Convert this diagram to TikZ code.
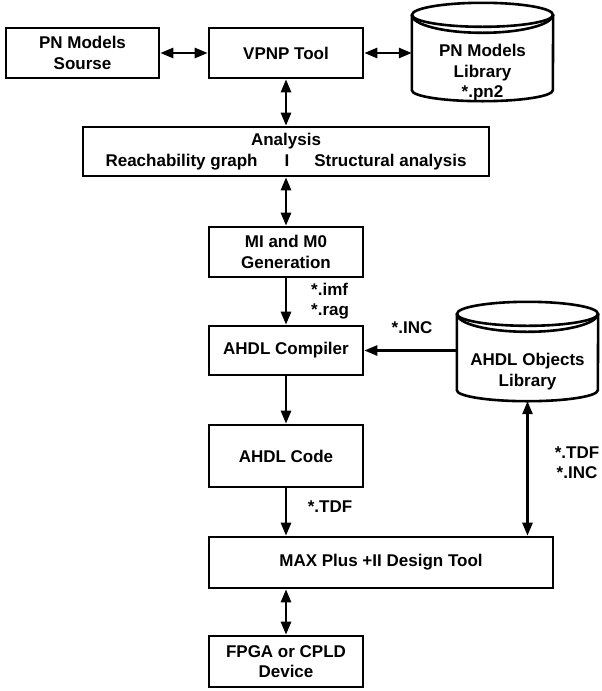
\documentclass[tikz,border=0pt]{standalone}
\usepackage{fontspec}
\setmainfont{Liberation Sans}
\usetikzlibrary{arrows.meta, calc}

\newcommand{\drawdrum}[1]{%
  \draw[line width=2.6pt] ($(#1.north west)+(0,-12)$) -- ($(#1.south west)+(0,11)$)
    arc[start angle=180, end angle=360, x radius=70.5, y radius=11] -- ($(#1.north east)+(0,-12)$);
  \draw[line width=2.6pt] ($(#1.north)+(0,-12)$) ellipse[x radius=70.5, y radius=12];
  \draw[line width=2.6pt] ($(#1.north west)+(0,-12)$) arc[start angle=180, end angle=360, x radius=70.5, y radius=18];
}

\begin{document}
\begin{tikzpicture}[x=1pt, y=1pt,
    font=\fontsize{17}{20.5}\selectfont\bfseries,
    box/.style={draw, line width=2.6pt, minimum width=154pt, minimum height=50pt, align=center, inner sep=0pt},
    drum/.style={minimum width=141pt, minimum height=98pt, inner sep=0pt},
    lbl/.style={inner sep=0pt},
    dbl/.style={line width=2.6pt, {Triangle[length=13pt,width=10pt]}-{Triangle[length=13pt,width=10pt]}},
    one/.style={line width=2.6pt, -{Triangle[length=13pt,width=10pt]}}]
  \useasboundingbox (0,0) rectangle (602,-691);

  % top row
  \node[box, minimum width=153pt] (src) at (82.5,-53) {PN Models\\Sourse};
  \node[box] (vpnp) at (286,-53) {VPNP Tool};
  \node[drum] (pnlib) at (482.5,-52) {};
  \drawdrum{pnlib}
  \node[lbl, align=center] (pnlibtxt) at (482.5,-73) {PN Models\\Library\\*.pn2};

  % main column
  \node[box, minimum width=406pt, minimum height=49pt] (anl) at (286,-151.5)
    {Analysis\\Reachability graph\hspace{27pt}I\hspace{25pt}Structural analysis};
  \node[box] (mi) at (286,-252) {MI and M0\\Generation};
  \node[box, minimum height=49pt] (comp) at (286,-350.5) {AHDL Compiler};
  \node[box, minimum height=62pt] (code) at (286,-456) {AHDL Code};
  \node[box, minimum width=344pt, minimum height=51pt] (maxt) at (381,-562.5) {MAX Plus +II Design Tool};
  \node[box, minimum height=51pt] (fpga) at (286,-661.5) {FPGA or CPLD\\Device};

  % objects library
  \node[drum, minimum height=99pt] (ahdllib) at (527.5,-351.5) {};
  \drawdrum{ahdllib}
  \node[lbl, align=center] (ahdltxt) at (527.5,-371.5) {AHDL Objects\\Library};

  % connectors
  \draw[dbl] (src) -- (vpnp);
  \draw[dbl] (vpnp.east) -- (vpnp.east -| pnlib.west);
  \draw[dbl] (vpnp) -- (anl);
  \draw[dbl] (anl) -- (mi);
  \draw[one] (mi) -- (comp);
  \draw[one] (ahdllib.west |- comp.east) -- (comp.east);
  \draw[one] (comp) -- (code);
  \draw[one] (code.south) -- (code.south |- maxt.north);
  \draw[dbl] (ahdllib.south) -- (ahdllib.south |- maxt.north);
  \draw[dbl] (maxt.south -| fpga.north) -- (fpga.north);

  % file labels
  \node[lbl, align=left, anchor=west] (mifiles) at (311,-301) {*.imf\\*.rag};
  \node[lbl] (incfile) at (412,-328) {*.INC};
  \node[lbl] (tdffile) at (330,-507) {*.TDF};
  \node[lbl, align=center] (libfiles) at (577,-462.5) {*.TDF\\*.INC};
\end{tikzpicture}
\end{document}
